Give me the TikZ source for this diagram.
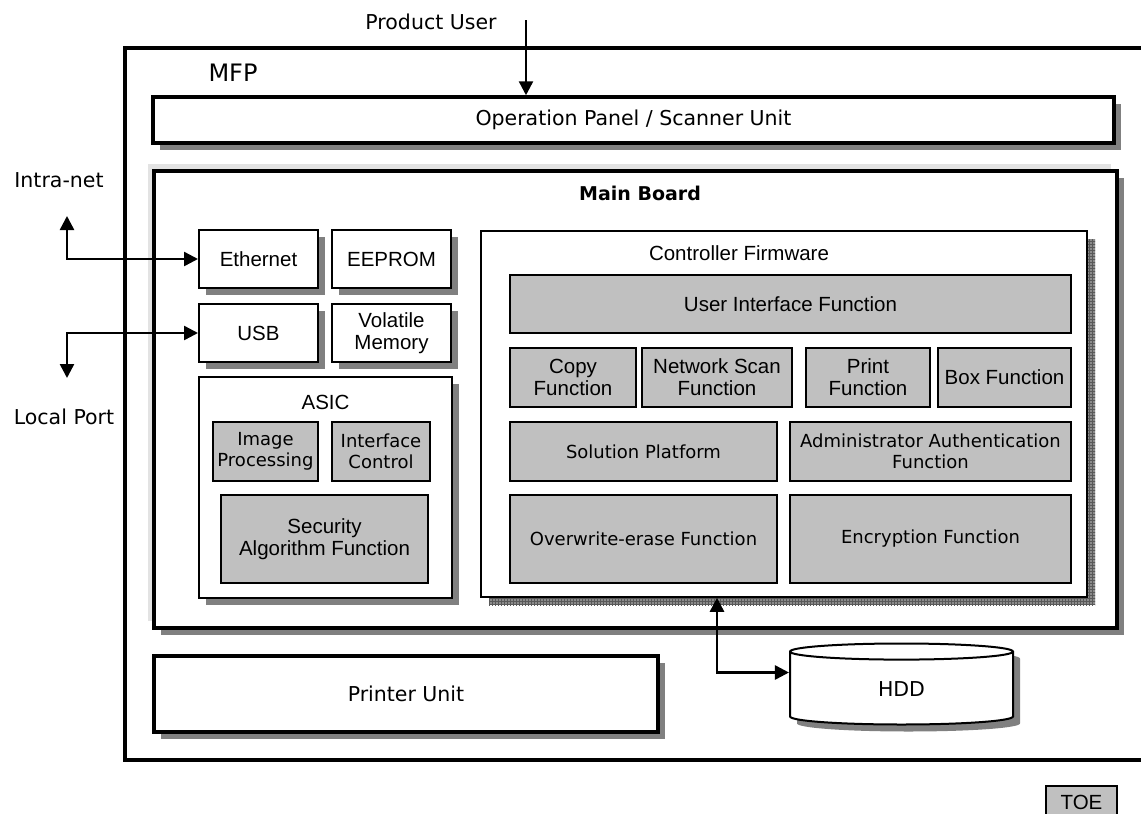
\documentclass[tikz,border=0pt]{standalone}
\usepackage{fontspec}
\setmainfont{DejaVu Sans}
\newfontfamily\armfont{Liberation Sans}
\usepackage{tikz}
\usetikzlibrary{positioning, arrows.meta, shapes.geometric, shadows, patterns}

\definecolor{silver}{HTML}{C0C0C0}

\begin{document}
\begin{tikzpicture}[
    x=1pt, y=-1pt,
    vtxt/.style={font=\fontsize{20.5pt}{23pt}\selectfont},
    stxt/.style={font=\fontsize{18pt}{21pt}\selectfont},
    atxt/.style={font=\armfont\fontsize{20.5pt}{22pt}\selectfont},
    shade/.style={drop shadow={shadow xshift=7pt, shadow yshift=-7pt, opacity=1, fill=black!50}},
    unit/.style={rectangle, draw=black, line width=3.5pt, fill=white, vtxt, shade},
    part/.style={rectangle, draw=black, line width=2pt, fill=white, atxt, align=center, shade},
    func/.style={rectangle, draw=black, line width=2pt, fill=silver, atxt, align=center},
    link/.style={line width=2.5pt, {Triangle[length=14pt,width=14pt]}-{Triangle[length=14pt,width=14pt]}}
]
\useasboundingbox (0,0) rectangle (1141,814);

% MFP frame
\draw[line width=4pt] (1150,48) -- (125,48) -- (125,760) -- (1150,760);
\node[font=\fontsize{24pt}{28pt}\selectfont] (mfp) at (233,73) {MFP};

% outside parties
\node[vtxt] (user) at (431,22) {Product User};
\node[vtxt] (intranet) at (59,180) {Intra-net};
\node[vtxt] (local) at (64,417) {Local Port};

% units of the MFP
\node[unit, minimum width=961pt, minimum height=46pt] (op) at (633.5,120) {Operation Panel / Scanner Unit};
\node[unit, line width=4pt, minimum width=963pt, minimum height=457pt,
      preaction={fill=black!11, transform canvas={xshift=-6pt, yshift=7pt}}] (mb) at (635.5,399.5) {};
\node[font=\bfseries\fontsize{19pt}{22pt}\selectfont] (mblbl) at (640,193) {Main Board};
\node[unit, minimum width=504pt, minimum height=76pt] (prn) at (406,694) {Printer Unit};
\node[cylinder, shape border rotate=90, aspect=0.3, draw=black, line width=2pt, fill=white,
      minimum width=223pt, minimum height=81pt, vtxt, shade] (hdd) at (901.5,689.5) {HDD};

% main board, left side
\node[part, minimum width=119pt, minimum height=58pt] (eth) at (258.5,259) {Ethernet};
\node[part, minimum width=119pt, minimum height=58pt] (eep) at (391.5,259) {EEPROM};
\node[part, minimum width=119pt, minimum height=58pt] (usb) at (258.5,333) {USB};
\node[part, minimum width=119pt, minimum height=58pt] (vmem) at (391.5,333) {Volatile\\Memory};
\node[part, minimum width=253pt, minimum height=221pt] (asic) at (325.5,487.5) {};
\node[atxt] (asiclbl) at (325.5,402) {ASIC};
\node[func, stxt, minimum width=105pt, minimum height=59pt] (imgp) at (265.5,451.5) {Image\\Processing};
\node[func, stxt, minimum width=98pt, minimum height=59pt] (ifc) at (381,451.5) {Interface\\Control};
\node[func, minimum width=207pt, minimum height=88pt] (sec) at (324.5,539) {Security\\Algorithm Function};

% controller firmware
\node[rectangle, draw=black, line width=1.5pt, fill=white, minimum width=606pt, minimum height=366pt,
      drop shadow={shadow xshift=8pt, shadow yshift=-8pt, opacity=1, fill=black!45,
                   postaction={pattern=grid, pattern color=black!65}}] (cf) at (784,414) {};
\node[atxt] (cflbl) at (739,253) {Controller Firmware};
\node[func, minimum width=561pt, minimum height=58pt] (uif) at (790.5,304) {User Interface Function};
\node[func, minimum width=126pt, minimum height=59pt] (copyf) at (573,377.5) {Copy\\Function};
\node[func, minimum width=150pt, minimum height=59pt] (nscan) at (717,377.5) {Network Scan\\Function};
\node[func, minimum width=124pt, minimum height=59pt] (printf) at (868,377.5) {Print\\Function};
\node[func, minimum width=133pt, minimum height=59pt] (boxf) at (1004.5,377.5) {Box Function};
\node[func, stxt, minimum width=267pt, minimum height=59pt] (solp) at (643.5,451.5) {Solution Platform};
\node[func, stxt, minimum width=281pt, minimum height=59pt] (adm) at (930.5,451.5) {Administrator Authentication\\Function};
\node[func, stxt, minimum width=267pt, minimum height=88pt] (ovw) at (643.5,539) {Overwrite-erase Function};
\node[func, stxt, minimum width=281pt, minimum height=88pt] (enc) at (930.5,539) {Encryption Function};

% legend
\node[func, line width=1.5pt, minimum width=71pt, minimum height=32pt] (toe) at (1081.5,802) {TOE};

% connectors
\coordinate (userend) at (526,20);
\coordinate (inetend) at (67,216);
\coordinate (lportend) at (67,378);
\draw[line width=2.5pt, -{Triangle[length=14pt,width=14pt]}] (userend) -- (userend |- op.north);
\draw[link] (inetend) |- (eth.west);
\draw[link] (lportend) |- (usb.west);
\draw[link] ([xshift=-67pt]cf.south) |- ([yshift=17pt]hdd.west);

\end{tikzpicture}
\end{document}
